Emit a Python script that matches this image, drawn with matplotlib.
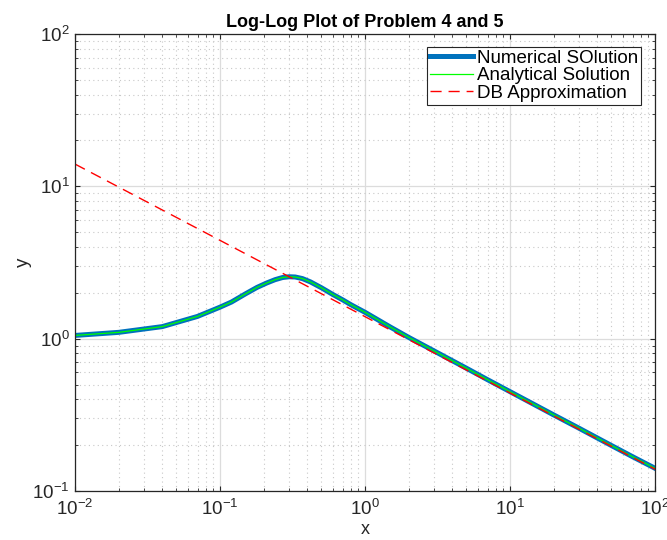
import matplotlib
matplotlib.use("Agg")
import matplotlib.pyplot as plt
import numpy as np
from matplotlib.ticker import LogLocator, LogFormatterSciNotation, NullFormatter

plt.rcParams['font.family'] = ['Liberation Sans', 'DejaVu Sans']
plt.rcParams['mathtext.fontset'] = 'custom'
plt.rcParams['mathtext.rm'] = 'Liberation Sans'
plt.rcParams['mathtext.it'] = 'Liberation Sans:italic'
plt.rcParams['mathtext.bf'] = 'Liberation Sans:bold'

# Data
x_num = [0.01, 0.02, 0.04, 0.07, 0.1, 0.12, 0.15, 0.18, 0.21, 0.24, 0.27, 0.30, 0.33,
         0.37, 0.42, 0.5, 0.6, 0.7, 0.8, 1.0, 1.5, 2.0, 3.0, 5.0, 7.0, 10.0, 20.0,
         30.0, 50.0, 70.0, 100.0]
y_num = [1.05, 1.10, 1.20, 1.40, 1.61, 1.74, 1.97, 2.17, 2.32, 2.44, 2.52, 2.55, 2.54,
         2.48, 2.36, 2.16, 1.95, 1.80, 1.67, 1.49, 1.19, 1.02, 0.83, 0.640, 0.538, 0.449,
         0.316, 0.258, 0.199, 0.168, 0.141]
x_ana = x_num
y_ana = y_num
x_db = [0.01, 100.0]
y_db = [14.0, 0.139]

labels = ['Numerical SOlution', 'Analytical Solution', 'DB Approximation']
title = 'Log-Log Plot of Problem 4 and 5'

fig = plt.figure(figsize=(6.67, 5.40), dpi=100)
ax = fig.add_axes([75/667, 1-491/540, 580/667, 457/540])

ax.loglog(x_num, y_num, color='#0072BD', lw=3.6, label=labels[0], solid_joinstyle='round')
ax.loglog(x_ana, y_ana, color='#00FF00', lw=0.9, label=labels[1])
ax.loglog(x_db, y_db, color='#FF0000', lw=1.0, ls=(0, (8, 5)), label=labels[2])

ax.set_xlim(1e-2, 1e2)
ax.set_ylim(1e-1, 1e2)

for axis in (ax.xaxis, ax.yaxis):
    axis.set_major_locator(LogLocator(base=10, numticks=10))
    axis.set_minor_locator(LogLocator(base=10, subs=np.arange(2, 10), numticks=100))
    axis.set_major_formatter(LogFormatterSciNotation())
    axis.set_minor_formatter(NullFormatter())

ax.grid(True, which='major', color='#dcdcdc', lw=0.9, ls='-')
ax.grid(True, which='minor', color='#c8c8c8', lw=0.8, ls=(0, (1, 3)))
ax.set_axisbelow(True)

ax.tick_params(which='both', direction='in', top=True, right=True, colors='#262626', labelcolor='#262626')
ax.tick_params(which='major', length=3.5, width=0.8, labelsize=13.5)
ax.tick_params(axis='x', which='major', pad=6)
ax.tick_params(axis='y', which='major', pad=4)
ax.tick_params(which='minor', length=2, width=0.6)
for s in ax.spines.values():
    s.set_color('#262626')
    s.set_linewidth(0.9)

ax.set_title(title, fontsize=13, fontweight='bold', pad=5)
ax.set_xlabel('x', fontsize=13, labelpad=1, color='#262626')
ax.set_ylabel('y', fontsize=13.5, labelpad=0, color='#262626')

leg = ax.legend(loc='upper right', bbox_to_anchor=(641/667, 1-47/540), bbox_transform=fig.transFigure,
                fontsize=13.5, frameon=True, fancybox=False, framealpha=1, edgecolor='#262626',
                handlelength=2.3, handletextpad=0.2, labelspacing=0.02, borderpad=0.15,
                borderaxespad=0)
leg.get_frame().set_linewidth(0.8)

fig.savefig('out.png', dpi=100)
